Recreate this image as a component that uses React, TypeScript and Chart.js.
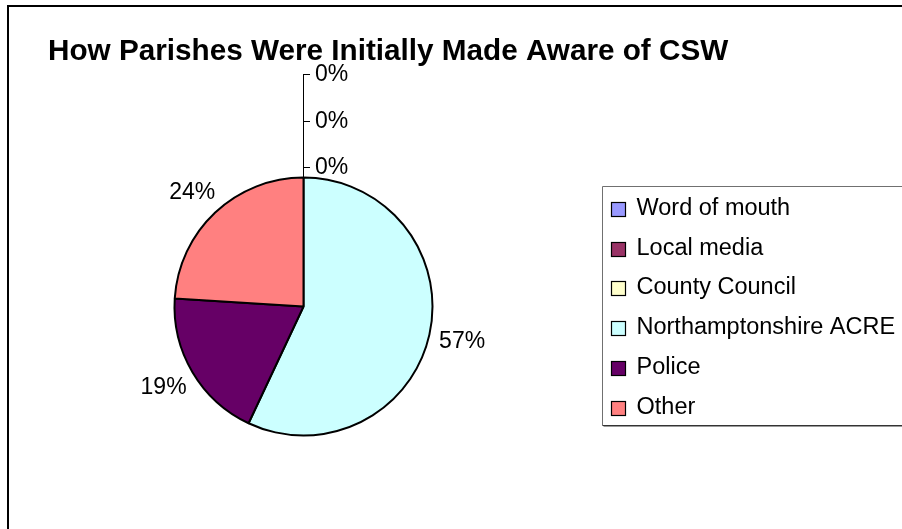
import React, { useEffect, useRef } from "react";
import { Chart, registerables } from "chart.js";

Chart.register(...registerables);

const titleText = "How Parishes Were Initially Made Aware of CSW";
const categories = [
  "Word of mouth",
  "Local media",
  "County Council",
  "Northamptonshire ACRE",
  "Police",
  "Other",
];
const values = [0, 0, 0, 57, 19, 24];
const colors = ["#9999FF", "#993366", "#FFFFCC", "#CCFFFF", "#660066", "#FF8080"];

const FONT = '"Liberation Sans", Arial, sans-serif';

const decorPlugin = {
  id: "decor",
  afterDraw(chart: any) {
    const ctx = chart.ctx as CanvasRenderingContext2D;
    const meta = chart.getDatasetMeta(0);
    const data = chart.data.datasets[0].data as number[];
    const labels = chart.data.labels as string[];
    const bg = chart.data.datasets[0].backgroundColor as string[];
    const total = data.reduce((a, b) => a + b, 0);
    ctx.save();

    // outer chart border
    ctx.strokeStyle = "#000";
    ctx.lineWidth = 2;
    ctx.beginPath();
    ctx.moveTo(8, 540);
    ctx.lineTo(8, 6);
    ctx.lineTo(910, 6);
    ctx.stroke();

    // title
    ctx.fillStyle = "#000";
    ctx.font = `bold 29.7px ${FONT}`;
    ctx.textAlign = "left";
    ctx.textBaseline = "alphabetic";
    ctx.fillText(titleText, 48, 60);

    // data labels
    ctx.font = `23px ${FONT}`;
    const zeroIdx: number[] = [];
    meta.data.forEach((arc: any, i: number) => {
      const p = arc.getProps(["x", "y", "startAngle", "endAngle", "outerRadius"], true);
      if (data[i] === 0) {
        zeroIdx.push(i);
        return;
      }
      const mid = (p.startAngle + p.endAngle) / 2;
      const lx = p.x + Math.cos(mid) * p.outerRadius * 1.26;
      const ly = p.y + Math.sin(mid) * p.outerRadius * 1.22;
      ctx.textAlign = "center";
      ctx.textBaseline = "middle";
      ctx.fillText(Math.round((data[i] / total) * 100) + "%", lx, ly + 1);
    });

    // zero-value labels stacked above the pie with leader lines
    if (zeroIdx.length) {
      const arc: any = meta.data[zeroIdx[0]];
      const p = arc.getProps(["x", "y", "startAngle", "outerRadius"], true);
      const ax = p.x + Math.cos(p.startAngle) * p.outerRadius;
      const ay = p.y + Math.sin(p.startAngle) * p.outerRadius;
      const n = zeroIdx.length;
      const step = 46.5;
      const ys = zeroIdx.map((_, k) => ay - 10.5 - (n - 1 - k) * step);
      ctx.strokeStyle = "#000";
      ctx.lineWidth = 1;
      ctx.beginPath();
      ctx.moveTo(Math.round(ax) - 0.5, ay);
      ctx.lineTo(Math.round(ax) - 0.5, ys[0]);
      ys.forEach((y) => {
        ctx.moveTo(Math.round(ax) - 0.5, Math.round(y) + 0.5);
        ctx.lineTo(Math.round(ax) + 6, Math.round(y) + 0.5);
      });
      ctx.stroke();
      ctx.textAlign = "left";
      ctx.textBaseline = "middle";
      zeroIdx.forEach((i, k) => {
        ctx.fillText(Math.round((data[i] / (total || 1)) * 100) + "%", Math.round(ax) + 11, ys[k] + 1);
      });
    }

    // legend
    const lx0 = 602.5;
    const ly0 = 186.5;
    const rowH = 39.7;
    const lh = 239;
    ctx.fillStyle = "#fff";
    ctx.fillRect(lx0, ly0, 320, lh);
    ctx.strokeStyle = "#707070";
    ctx.lineWidth = 1;
    ctx.beginPath();
    ctx.moveTo(lx0 + 320, ly0);
    ctx.lineTo(lx0, ly0);
    ctx.lineTo(lx0, ly0 + lh);
    ctx.stroke();
    ctx.strokeStyle = "#333";
    ctx.beginPath();
    ctx.moveTo(lx0, ly0 + lh);
    ctx.lineTo(lx0 + 320, ly0 + lh);
    ctx.stroke();
    ctx.strokeStyle = "#9a9a9a";
    ctx.beginPath();
    ctx.moveTo(lx0 + 1, ly0 + lh + 1);
    ctx.lineTo(lx0 + 320, ly0 + lh + 1);
    ctx.stroke();

    ctx.font = `23.5px ${FONT}`;
    ctx.textAlign = "left";
    ctx.textBaseline = "alphabetic";
    labels.forEach((lab, i) => {
      const base = 215 + i * rowH;
      const by = Math.round(base - 13) + 0.5;
      ctx.fillStyle = bg[i];
      ctx.fillRect(611.5, by, 14, 14);
      ctx.strokeStyle = "#000";
      ctx.lineWidth = 1.2;
      ctx.strokeRect(611.5, by, 14, 14);
      ctx.fillStyle = "#000";
      ctx.fillText(lab, 636.5, base);
    });

    ctx.restore();
  },
};

export default function App() {
  const ref = useRef<HTMLCanvasElement | null>(null);
  useEffect(() => {
    if (!ref.current) return;
    const chart = new Chart(ref.current, {
      type: "pie",
      data: {
        labels: categories,
        datasets: [
          {
            data: values,
            backgroundColor: colors,
            borderColor: "#000",
            borderWidth: 2,
            hoverOffset: 0,
          },
        ],
      },
      options: {
        responsive: false,
        animation: false,
        events: [],
        radius: 129,
        layout: { padding: { left: 170, right: 465, top: 172, bottom: 88 } },
        plugins: {
          legend: { display: false },
          title: { display: false },
          tooltip: { enabled: false },
        },
      } as any,
      plugins: [decorPlugin],
    });
    return () => chart.destroy();
  }, []);
  return (
    <div style={{ position: "fixed", left: 0, top: 0, width: 902, height: 529, background: "#fff" }}>
      <canvas ref={ref} width={902} height={529} style={{ width: 902, height: 529, display: "block" }} />
    </div>
  );
}
